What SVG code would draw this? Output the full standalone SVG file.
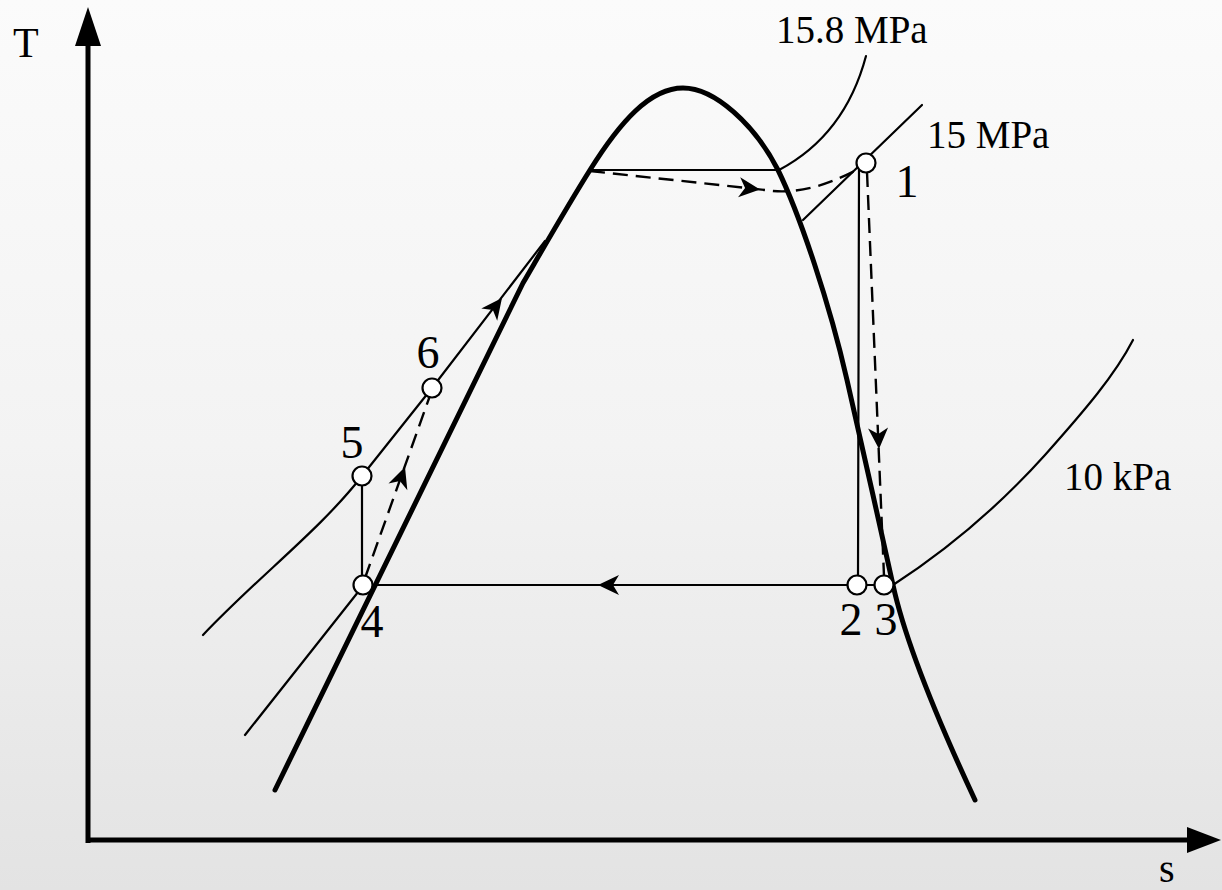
<svg xmlns="http://www.w3.org/2000/svg" xmlns:xlink="http://www.w3.org/1999/xlink" width="1222" height="890" viewBox="0 0 1222 890">
<style>
.thin{fill:none;stroke:#000;stroke-width:2.2;stroke-linecap:round}
.dash{fill:none;stroke:#000;stroke-width:2.4;stroke-dasharray:15 8}
.thick{fill:none;stroke:#000;stroke-width:5;stroke-linejoin:round;stroke-linecap:round}
.pt{fill:#fff;stroke:#000;stroke-width:2.2}
text{fill:#000}
.num{font-size:46px;text-anchor:middle}
.pres{font-size:39px}
</style>
<defs>
<linearGradient id="bg" x1="0" y1="0" x2="0" y2="1">
<stop offset="0" stop-color="#fbfbfb"/>
<stop offset="0.5" stop-color="#f3f3f3"/>
<stop offset="1" stop-color="#e3e3e3"/>
</linearGradient>
<path id="ah" d="M0,0 L-21,-10 L-15,0 L-21,10 Z" fill="#000"/>
</defs>
<rect x="0" y="0" width="1222" height="890" fill="url(#bg)"/>

<g id="axes" font-family="'Liberation Serif', 'DejaVu Serif', serif">
<line x1="88" y1="843" x2="88" y2="40" stroke="#000" stroke-width="5"/>
<polygon points="88,7 75,46 101,46" fill="#000"/>
<line x1="86" y1="840" x2="1190" y2="840" stroke="#000" stroke-width="5"/>
<polygon points="1221,840 1187,827 1187,853" fill="#000"/>
<text x="13" y="57" font-size="42">T</text>
<text x="1159" y="882" font-size="40">s</text>
</g>

<g id="dome">
<path class="thick" d="M275,790 L523,283 C548,240 568,205 590,170 C620,122 650,88 683,88 C715,88 755,125 778,170 C800,215 830,305 847,380 C857,425 880,525 893,585 C906,645 940,725 975,800"/>
</g>

<g id="isobars" font-family="'Liberation Serif', 'DejaVu Serif', serif">
<path class="thin" d="M866,56 Q845,135 779,170"/>
<line class="thin" x1="590" y1="170" x2="779" y2="170"/>
<line class="thin" x1="922" y1="105" x2="803" y2="220"/>
<path class="thin" d="M203,635 C260,575 320,530 362,476 L432,388 L545,241"/>
<line class="thin" x1="245" y1="735" x2="366" y2="582"/>
<path class="thin" d="M893,585 C950,548 1000,505 1045,455 C1085,410 1115,375 1133,340"/>
<text class="pres" x="776" y="43">15.8 MPa</text>
<text class="pres" x="927" y="148">15 MPa</text>
<text class="pres" x="1064" y="490">10 kPa</text>
</g>

<g id="connectors">
<line class="thin" x1="859" y1="170" x2="858" y2="576"/>
<line class="thin" x1="363" y1="585" x2="874" y2="585"/>
<line class="thin" x1="362" y1="476" x2="362" y2="585"/>
<path class="dash" d="M590,171 L765,190 C790,194 820,190 862,167"/>
<line class="dash" x1="867" y1="172" x2="884" y2="576"/>
<line class="dash" x1="365" y1="578" x2="432" y2="390"/>
<use xlink:href="#ah" href="#ah" transform="translate(760,189.5) rotate(6.2)"/>
<use xlink:href="#ah" href="#ah" transform="translate(879,449) rotate(87.5)"/>
<use xlink:href="#ah" href="#ah" transform="translate(598,585) rotate(180)"/>
<use xlink:href="#ah" href="#ah" transform="translate(405,467) rotate(-70.3)"/>
<use xlink:href="#ah" href="#ah" transform="translate(502,298) rotate(-52.6)"/>
</g>

<g font-family="'Liberation Serif', 'DejaVu Serif', serif">
<g id="state1"><circle class="pt" cx="866" cy="163" r="9.5"/><text class="num" x="907" y="197">1</text></g>
<g id="state2"><circle class="pt" cx="857" cy="585" r="9.5"/><text class="num" x="851" y="635">2</text></g>
<g id="state3"><circle class="pt" cx="884" cy="585" r="9.5"/><text class="num" x="886" y="635">3</text></g>
<g id="state4"><circle class="pt" cx="363" cy="585" r="9.5"/><text class="num" x="372" y="637">4</text></g>
<g id="state5"><circle class="pt" cx="362" cy="476" r="9.5"/><text class="num" x="352" y="458">5</text></g>
<g id="state6"><circle class="pt" cx="432" cy="388" r="9.5"/><text class="num" x="428" y="368">6</text></g>
</g>
</svg>
